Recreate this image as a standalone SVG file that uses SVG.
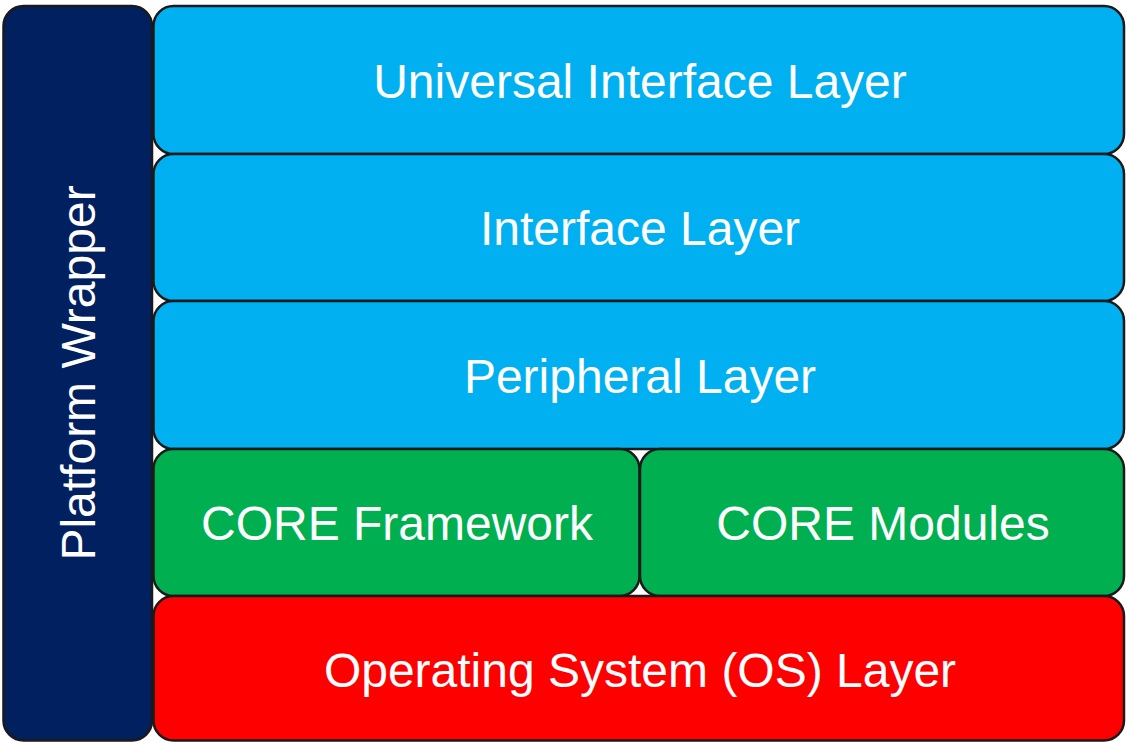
<svg xmlns="http://www.w3.org/2000/svg" width="1127" height="742" viewBox="0 0 1127 742">
  <style>
    .box { stroke: #1a1a1a; stroke-width: 2.5; }
    .label { font-family: "Liberation Sans", Arial, sans-serif; font-size: 48px; fill: #ffffff; text-anchor: middle; }
    .navy { fill: #002060; }
    .blue { fill: #00b0f0; }
    .green { fill: #00b050; }
    .red { fill: #ff0000; }
  </style>
  <rect width="1127" height="742" fill="#ffffff"/>

  <g id="platform-wrapper">
    <rect class="box navy" x="3.5" y="6" width="148.5" height="734.5" rx="20" ry="20"/>
    <text class="label" transform="translate(95,373) rotate(-90)">Platform Wrapper</text>
  </g>

  <g id="universal-interface-layer">
    <rect class="box blue" x="153.5" y="6" width="970.5" height="148" rx="20" ry="20"/>
    <text class="label" x="640" y="97.5">Universal Interface Layer</text>
  </g>

  <g id="interface-layer">
    <rect class="box blue" x="153.5" y="154" width="970.5" height="147" rx="20" ry="20"/>
    <text class="label" x="640" y="245">Interface Layer</text>
  </g>

  <g id="peripheral-layer">
    <rect class="box blue" x="153.5" y="301" width="970.5" height="148" rx="20" ry="20"/>
    <text class="label" x="640" y="392.5">Peripheral Layer</text>
  </g>

  <g id="core-framework">
    <rect class="box green" x="153.5" y="449" width="486" height="147" rx="20" ry="20"/>
    <text class="label" x="397" y="540">CORE Framework</text>
  </g>

  <g id="core-modules">
    <rect class="box green" x="640" y="449" width="484" height="147" rx="20" ry="20"/>
    <text class="label" x="883" y="540">CORE Modules</text>
  </g>

  <g id="os-layer">
    <rect class="box red" x="153.5" y="596" width="970.5" height="144.5" rx="20" ry="20"/>
    <text class="label" x="640" y="686.5">Operating System (OS) Layer</text>
  </g>

  <g id="connectors"></g>
</svg>
